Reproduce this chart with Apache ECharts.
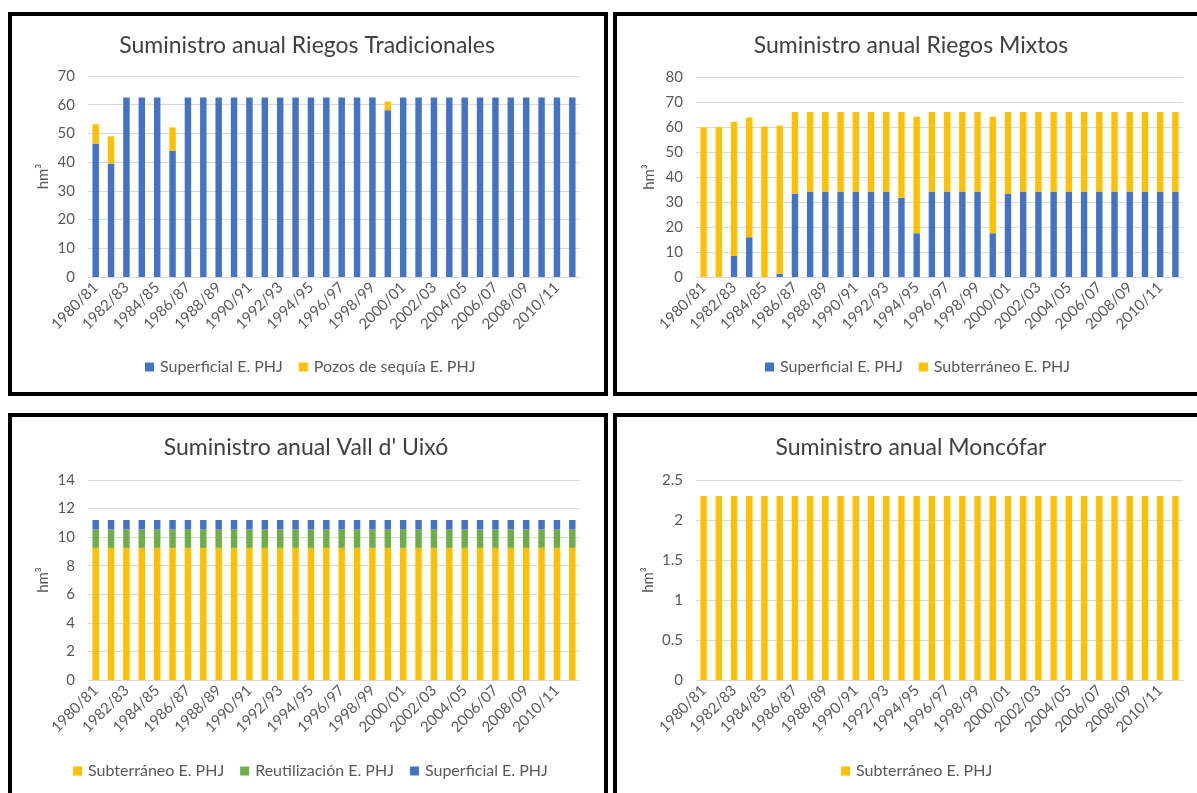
<!DOCTYPE html>
<html>
<head>
<meta charset="utf-8">
<script src="https://cdn.jsdelivr.net/npm/echarts@6/dist/echarts.min.js"></script>
<style>
html,body{margin:0;padding:0;background:#fff;}
#c{width:1197px;height:793px;}
</style>
</head>
<body>
<div id="c"></div>
<script>
const categories = ['1980/81','1981/82','1982/83','1983/84','1984/85','1985/86','1986/87','1987/88','1988/89','1989/90','1990/91','1991/92','1992/93','1993/94','1994/95','1995/96','1996/97','1997/98','1998/99','1999/00','2000/01','2001/02','2002/03','2003/04','2004/05','2005/06','2006/07','2007/08','2008/09','2009/10','2010/11','2011/12'];

// Riegos Tradicionales
const rtSuperficial = [46.5,39.5,62.5,62.5,62.5,44.0,62.5,62.5,62.5,62.5,62.5,62.5,62.5,62.5,62.5,62.5,62.5,62.5,62.5,58.1,62.5,62.5,62.5,62.5,62.5,62.5,62.5,62.5,62.5,62.5,62.5,62.5];
const rtPozos = [6.7,9.5,0,0,0,8.1,0,0,0,0,0,0,0,0,0,0,0,0,0,3.0,0,0,0,0,0,0,0,0,0,0,0,0];

// Riegos Mixtos
const rmSuperficial = [0,0,8.4,15.9,0,1.3,33.4,34.2,34.2,34.2,34.2,34.2,34.2,31.6,17.5,34.2,34.2,34.2,34.2,17.5,33.4,34.2,34.2,34.2,34.2,34.2,34.2,34.2,34.2,34.2,34.2,34.2];
const rmSubterraneo = [59.9,60.0,53.7,47.9,60.2,59.3,32.6,31.8,31.8,31.8,31.8,31.8,31.8,34.4,46.6,31.8,31.8,31.8,31.8,46.6,32.6,31.8,31.8,31.8,31.8,31.8,31.8,31.8,31.8,31.8,31.8,31.8];

// Vall d' Uixó
const vuSubterraneo = [9.25,9.25,9.25,9.25,9.25,9.25,9.25,9.25,9.25,9.25,9.25,9.25,9.25,9.25,9.25,9.25,9.25,9.25,9.25,9.25,9.25,9.25,9.25,9.25,9.25,9.25,9.25,9.25,9.25,9.25,9.25,9.25];
const vuReutilizacion = [1.28,1.28,1.28,1.28,1.28,1.28,1.28,1.28,1.28,1.28,1.28,1.28,1.28,1.28,1.28,1.28,1.28,1.28,1.28,1.28,1.28,1.28,1.28,1.28,1.28,1.28,1.28,1.28,1.28,1.28,1.28,1.28];
const vuSuperficial = [0.67,0.67,0.67,0.67,0.67,0.67,0.67,0.67,0.67,0.67,0.67,0.67,0.67,0.67,0.67,0.67,0.67,0.67,0.67,0.67,0.67,0.67,0.67,0.67,0.67,0.67,0.67,0.67,0.67,0.67,0.67,0.67];

// Moncófar
const moSubterraneo = [2.3,2.3,2.3,2.3,2.3,2.3,2.3,2.3,2.3,2.3,2.3,2.3,2.3,2.3,2.3,2.3,2.3,2.3,2.3,2.3,2.3,2.3,2.3,2.3,2.3,2.3,2.3,2.3,2.3,2.3,2.3,2.3];

const titles = ['Suministro anual Riegos Tradicionales','Suministro anual Riegos Mixtos',"Suministro anual Vall d' Uixó",'Suministro anual Moncófar'];
const yMax = [70, 80, 14, 2.5];
const yInterval = [10, 10, 2, 0.5];

const BLUE = '#4472C4', YEL = '#FFC000', GRN = '#70AD47';
const FONT = 'Lato';
const TXT = '#595959';
const LEG_FS = 16, ICON = 9, ICON_TXT_GAP = 6, ITEM_GAP = 16;

const chart = echarts.init(document.getElementById('c'), null, {renderer:'canvas'});

const grids = [
  {left:88, top:76, width:492, height:201},
  {left:696, top:77, width:487, height:200},
  {left:88, top:480, width:492, height:200},
  {left:696, top:480, width:487, height:200}
];
const titleX = [302, 906, 301, 906];
const titleY = [29, 29, 431, 431];
const legendCX = [310, 917, 310, 917];
const legendY = [359, 359, 763, 763];
const nameGaps = [37, 39, 37, 40];

const xAxes = grids.map((g,i)=>({
  type:'category', gridIndex:i, data:categories,
  axisTick:{show:false},
  axisLine:{show:true, lineStyle:{color:'#d9d9d9', width:1}},
  axisLabel:{rotate:45, interval:1, color:TXT, fontSize:15, fontFamily:FONT, margin:8}
}));
const yAxes = grids.map((g,i)=>({
  type:'value', gridIndex:i, min:0, max:yMax[i], interval:yInterval[i],
  name:'hm³', nameLocation:'middle', nameGap: nameGaps[i], nameRotate:90,
  nameTextStyle:{color:TXT, fontSize:15, fontFamily:FONT},
  axisLine:{show:false}, axisTick:{show:false},
  axisLabel:{color:TXT, fontSize:15, fontFamily:FONT, margin:13},
  splitLine:{lineStyle:{color:'#d9d9d9', width:1}}
}));

function bar(name, data, color, gi, stack){
  return {name, type:'bar', data, xAxisIndex:gi, yAxisIndex:gi, stack:stack,
    itemStyle:{color}, barCategoryGap:'58%', emphasis:{disabled:true}, animation:false};
}

const series = [
  bar('Superficial E. PHJ', rtSuperficial, BLUE, 0, 's0'),
  bar('Pozos de sequía E. PHJ', rtPozos, YEL, 0, 's0'),
  bar('Superficial E. PHJ ', rmSuperficial, BLUE, 1, 's1'),
  bar('Subterráneo E. PHJ', rmSubterraneo, YEL, 1, 's1'),
  bar('Subterráneo E. PHJ ', vuSubterraneo, YEL, 2, 's2'),
  bar('Reutilización E. PHJ', vuReutilizacion, GRN, 2, 's2'),
  bar('Superficial E. PHJ  ', vuSuperficial, BLUE, 2, 's2'),
  bar('Subterráneo E. PHJ  ', moSubterraneo, YEL, 3, 's3')
];

const legendData = [
  ['Superficial E. PHJ','Pozos de sequía E. PHJ'],
  ['Superficial E. PHJ ','Subterráneo E. PHJ'],
  ['Subterráneo E. PHJ ','Reutilización E. PHJ','Superficial E. PHJ  '],
  ['Subterráneo E. PHJ  ']
];

const ctx = document.createElement('canvas').getContext('2d');
ctx.font = LEG_FS + 'px ' + FONT;
function legendWidth(items){
  let w = 0;
  items.forEach((n,k)=>{
    w += ICON + ICON_TXT_GAP + ctx.measureText(n.trim()).width;
    if (k>0) w += ITEM_GAP;
  });
  return w;
}

const legends = legendData.map((d,i)=>({
  data:d, left: Math.round(legendCX[i] - legendWidth(d)/2), top: legendY[i],
  icon:'rect', itemWidth:ICON, itemHeight:ICON, itemGap:ITEM_GAP, padding:0,
  textStyle:{color:TXT, fontSize:LEG_FS, fontFamily:FONT, padding:[0,0,0,ICON_TXT_GAP-5]},
  selectedMode:false,
  formatter: n => n.trim()
}));

function border(x,y,w,h){
  return {type:'rect', shape:{x,y,width:w,height:h}, style:{fill:'none', stroke:'#000', lineWidth:4}, silent:true, z:100};
}

chart.setOption({
  animation:false,
  backgroundColor:'#fff',
  title: titles.map((t,i)=>({text:t, left:titleX[i], top:titleY[i], textAlign:'center',
    textStyle:{color:'#404040', fontSize:23, fontWeight:'normal', fontFamily:FONT}})),
  grid: grids,
  xAxis: xAxes,
  yAxis: yAxes,
  legend: legends,
  series: series,
  graphic: [
    border(10,14,596,380),
    border(615,14,640,380),
    border(10,415,596,420),
    border(615,415,640,420)
  ]
});
</script>
</body>
</html>
